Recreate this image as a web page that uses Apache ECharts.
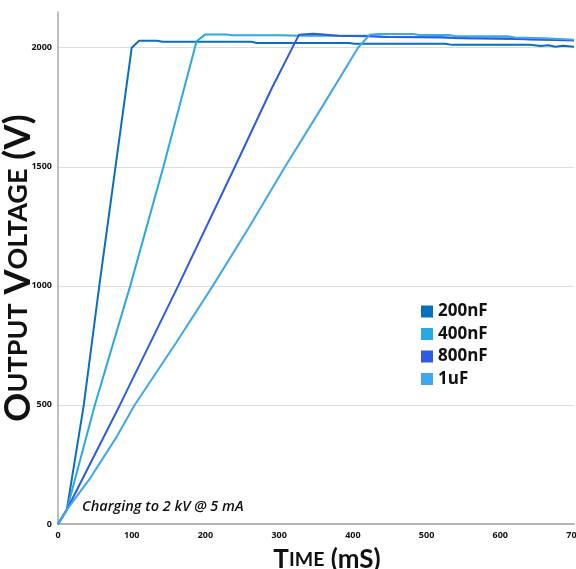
<!DOCTYPE html>
<html>
<head>
<meta charset="utf-8">
<script src="https://cdn.jsdelivr.net/npm/echarts@6/dist/echarts.min.js"></script>
<style>html,body{margin:0;padding:0;background:#fff}#c{width:576px;height:569px}</style>
</head>
<body>
<div id="c"></div>
<script>
const seriesNames = ['200nF', '400nF', '800nF', '1uF'];
const colors = ['#0b6fbf', '#28a9e1', '#2e5ce0', '#3ea7f0'];
const xTicks = [0, 100, 200, 300, 400, 500, 600, 700];
const yTicks = [0, 500, 1000, 1500, 2000];

const s200nF = [[0,0],[12,60],[35,500],[56,1000],[78,1500],[100,2000],[110,2029],[134,2029],[142,2025],[262,2025],[270,2020],[395,2020],[402,2017],[525,2017],[535,2012],[640,2012],[655,2007],[665,2010],[675,2004],[685,2008],[700,2004]];
const s400nF = [[0,0],[12,60],[50,500],[98,1000],[143,1500],[188,2027],[200,2056],[228,2056],[236,2052],[300,2052],[330,2050],[420,2050],[440,2046],[520,2045],[540,2040],[620,2040],[640,2035],[700,2032]];
const s800nF = [[0,0],[12,60],[84,500],[163,1000],[240,1500],[290,1830],[327,2055],[346,2059],[356,2057],[380,2050],[420,2048],[450,2045],[520,2043],[560,2040],[640,2036],[700,2030]];
const s1uF = [[0,0],[12,60],[42,185],[80,368],[104,500],[160,760],[210,1000],[260,1250],[308,1500],[360,1760],[407,2000],[423,2055],[435,2058],[482,2058],[490,2053],[530,2053],[540,2048],[610,2048],[620,2043],[660,2040],[700,2034]];
const allData = [s200nF, s400nF, s800nF, s1uF];

const chart = echarts.init(document.getElementById('c'), null, {renderer: 'canvas'});
const fontFam = '"Open Sans", "Liberation Sans", sans-serif';
const titleFam = 'Lato, "Open Sans", sans-serif';
chart.setOption({
  animation: false,
  color: colors,
  grid: {left: 58, right: 2, top: 12, bottom: 45, containLabel: false, outerBoundsMode: 'none'},
  legend: {
    orient: 'vertical', left: 416, top: 298,
    icon: 'rect', itemWidth: 12, itemHeight: 12, itemGap: 5.5,
    data: seriesNames,
    textStyle: {fontFamily: fontFam, fontWeight: 'bold', fontSize: 17, color: '#111'}
  },
  xAxis: {
    type: 'value', min: 0, max: 700, interval: 100,
    axisLine: {lineStyle: {color: '#b5b5b5', width: 2}},
    axisTick: {show: false},
    splitLine: {show: false},
    axisLabel: {fontFamily: fontFam, fontWeight: 'bold', fontSize: 9, color: '#111', margin: 7,
      formatter: v => xTicks.includes(v) ? String(v) : ''},
    name: '{b|T}{s|IME}{b| (mS)}',
    nameLocation: 'middle', nameGap: 23, nameMoveOverlap: false,
    nameTextStyle: {padding: [0, 0, 0, 22], rich: {
      b: {fontFamily: titleFam, fontWeight: 'bold', fontSize: 26, color: '#111'},
      s: {fontFamily: titleFam, fontWeight: 'bold', fontSize: 19.5, color: '#111'}
    }}
  },
  yAxis: {
    type: 'value', min: 0, max: 2150, interval: 500,
    axisLine: {show: true, lineStyle: {color: '#aaaaaa', width: 1.5}},
    axisTick: {show: false},
    splitLine: {show: true, showMinLine: false, showMaxLine: false, lineStyle: {color: '#dddddd', width: 1}},
    axisLabel: {fontFamily: fontFam, fontWeight: 'bold', fontSize: 9, color: '#111', margin: 6,
      showMaxLabel: false,
      formatter: v => yTicks.includes(v) ? String(v) : ''},
    name: '{b|O}{s|UTPUT}{b| V}{s|OLTAGE}{b| (V)}',
    nameLocation: 'middle', nameGap: 22, nameRotate: 90, nameMoveOverlap: false,
    nameTextStyle: {rich: {
      b: {fontFamily: titleFam, fontWeight: 'bold', fontSize: 36, color: '#111'},
      s: {fontFamily: titleFam, fontWeight: 'bold', fontSize: 27, color: '#111'}
    }}
  },
  graphic: [{
    type: 'text', left: 82, top: 499,
    style: {text: 'Charging to 2 kV @ 5 mA', fontFamily: fontFam, fontStyle: 'italic', fontWeight: 600, fontSize: 14.5, fill: '#111'}
  }],
  series: seriesNames.map((n, i) => ({
    name: n, type: 'line', data: allData[i], showSymbol: false, symbol: 'none',
    lineStyle: {width: 2, color: colors[i]}, itemStyle: {color: colors[i]}
  }))
});
</script>
</body>
</html>
